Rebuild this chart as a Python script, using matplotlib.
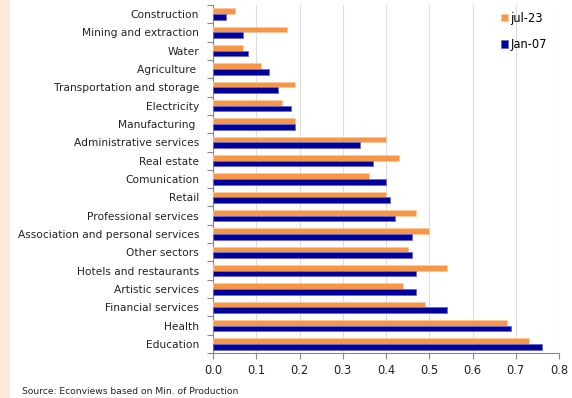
import matplotlib
matplotlib.use("Agg")
import matplotlib.pyplot as plt
import numpy as np
from matplotlib.patches import Rectangle

categories = [
    "Construction", "Mining and extraction", "Water", "Agriculture ",
    "Transportation and storage", "Electricity", "Manufacturing ",
    "Administrative services", "Real estate", "Comunication", "Retail",
    "Professional services", "Association and personal services",
    "Other sectors", "Hotels and restaurants", "Artistic services",
    "Financial services", "Health", "Education",
]
jul23 = [0.05, 0.17, 0.07, 0.11, 0.19, 0.16, 0.19, 0.40, 0.43, 0.36, 0.40,
         0.47, 0.50, 0.45, 0.54, 0.44, 0.49, 0.68, 0.73]
jan07 = [0.03, 0.07, 0.08, 0.13, 0.15, 0.18, 0.19, 0.34, 0.37, 0.40, 0.41,
         0.42, 0.46, 0.46, 0.47, 0.47, 0.54, 0.69, 0.76]
xticks = [0.0, 0.1, 0.2, 0.3, 0.4, 0.5, 0.6, 0.7, 0.8]
source = "Source: Econviews based on Min. of Production"

ORANGE = "#F79646"
NAVY = "#00009A"

plt.rcParams["font.family"] = ["DejaVu Sans"]
fig = plt.figure(figsize=(5.72, 3.98), dpi=100)
fig.patches.append(Rectangle((0, 0), 10 / 572, 1, transform=fig.transFigure,
                             facecolor="#FCEADC", edgecolor="none", zorder=0))

ax = fig.add_axes([213 / 572, 1 - 353 / 398, 346 / 572, 348 / 398])
y = np.arange(len(categories))
h = 0.31
ax.barh(y - h / 2, jul23, height=h, color=ORANGE, edgecolor="#FBC9A0",
        linewidth=0.6, label="jul-23", zorder=3)
ax.barh(y + h / 2, jan07, height=h, color=NAVY, edgecolor="#6A6AC8",
        linewidth=0.6, label="Jan-07", zorder=3)

ax.set_ylim(len(categories) - 0.5, -0.5)
ax.set_xlim(0, 0.8)
ax.set_xticks(xticks)
ax.set_xticklabels([f"{v:.1f}" for v in xticks], fontsize=8.3)
ax.set_yticks(y)
ax.set_yticklabels(categories, fontsize=7.65, color="#222222")
ax.tick_params(axis="y", which="major", length=0, pad=10)
ax.set_yticks(np.arange(-0.5, len(categories), 1), minor=True)
ax.tick_params(axis="y", which="minor", length=4, color="#888888", width=0.8)
ax.tick_params(axis="x", length=4, color="#888888", width=0.8, pad=4,
               labelcolor="#222222")

ax.grid(axis="x", color="#DDDDDD", linewidth=0.8, zorder=0)
for s in ("top", "right"):
    ax.spines[s].set_visible(False)
for s in ("left", "bottom"):
    ax.spines[s].set_color("#888888")
    ax.spines[s].set_linewidth(0.8)

leg = ax.legend(loc="upper right", bbox_to_anchor=(0.995, 1.01), frameon=False,
                fontsize=8.3, handlelength=0.6, handleheight=0.6,
                handletextpad=0.2, labelspacing=1.15)

fig.text(22 / 572, 1 - 391 / 398, source, fontsize=6.6, color="#222222",
         va="center", ha="left")

fig.savefig("out.png", dpi=100)
